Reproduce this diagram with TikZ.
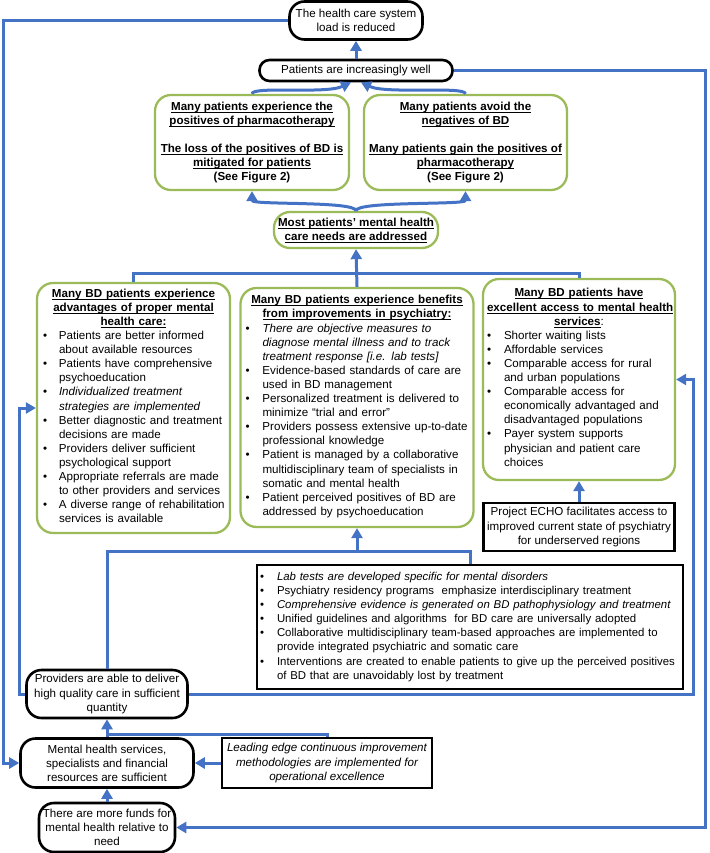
\documentclass[tikz,border=0pt]{standalone}
\usepackage{fontspec}
\setmainfont{Liberation Sans}
\usetikzlibrary{arrows.meta}
\definecolor{linkblue}{RGB}{68,114,196}
\definecolor{boxgreen}{RGB}{155,187,89}
\newcommand{\hd}[1]{\leavevmode{\bfseries\setbox0\hbox{#1}\rlap{\rule[-2.3pt]{\wd0}{0.8pt}}\box0}}
\newcommand{\bl}{\textbullet}
\tikzset{
  roundbox/.style={draw, line width=2.6pt, rounded corners=15pt, fill=white, align=center, inner sep=2pt},
  greenbox/.style={draw=boxgreen, line width=2.3pt, rounded corners=16pt, fill=white, inner sep=4pt},
  sqbox/.style={draw, line width=2.6pt, fill=white, inner sep=3pt},
  link/.style={draw=linkblue, line width=3pt},
  flow/.style={link, -{Triangle[length=10pt,width=11pt]}}
}
\begin{document}
\begin{tikzpicture}[x=1pt,y=-1pt,font=\fontsize{11.6}{14.1}\selectfont]
  \useasboundingbox (0,0) rectangle (709,853);
  \node[roundbox, minimum width=133pt, minimum height=38pt] (load) at (356,20.5)
    {The health care system\\load is reduced};
  \node[roundbox, rounded corners=10pt, minimum width=193pt, minimum height=21pt] (well) at (356,70.5)
    {Patients are increasingly well};
  \node[greenbox, align=center, minimum width=194pt, minimum height=95pt] (posL) at (252,142.5)
    {\hd{Many patients experience the}\\\hd{positives of pharmacotherapy}\\[14.1pt]
     \hd{The loss of the positives of BD is}\\\hd{mitigated for patients}\\\textbf{(See Figure 2)}};
  \node[greenbox, align=center, minimum width=203pt, minimum height=95pt] (posR) at (465.5,142.5)
    {\hd{Many patients avoid the}\\\hd{negatives of BD}\\[14.1pt]
     \hd{Many patients gain the positives of}\\\hd{pharmacotherapy}\\\textbf{(See Figure 2)}};
  \node[greenbox, align=center, minimum width=161pt, minimum height=36pt] (most) at (356,230)
    {\hd{Most patients’ mental health}\\\hd{care needs are addressed}};
  \node[greenbox, text width=185pt, minimum height=250pt] (adv) at (133.5,408) {%
    {\centering\hd{Many BD patients experience}\\\hd{advantages of proper mental}\\\hd{health care:}\par}
    \noindent\begin{tabular}[t]{@{\hspace{2pt}}p{16pt}@{}l@{}}
    \bl & Patients are better informed\\
        & about available resources\\
    \bl & Patients have comprehensive\\
        & psychoeducation\\
    \bl & \textit{Individualized treatment}\\
        & \textit{strategies are implemented}\\
    \bl & Better diagnostic and treatment\\
        & decisions are made\\
    \bl & Providers deliver sufficient\\
        & psychological support\\
    \bl & Appropriate referrals are made\\
        & to other providers and services\\
    \bl & A diverse range of rehabilitation\\
        & services is available
    \end{tabular}};
  \node[greenbox, text width=225pt, minimum height=239pt] (psy) at (357,407.5) {%
    {\centering\hd{Many BD patients experience benefits}\\\hd{from improvements in psychiatry:}\par}
    \noindent\begin{tabular}[t]{@{\hspace{1pt}}p{17pt}@{}l@{}}
    \bl & \textit{There are objective measures to}\\
        & \textit{diagnose mental illness and to track}\\
        & \textit{treatment response [i.e. lab tests]}\\
    \bl & Evidence-based standards of care are\\
        & used in BD management\\
    \bl & Personalized treatment is delivered to\\
        & minimize “trial and error”\\
    \bl & Providers possess extensive up-to-date\\
        & professional knowledge\\
    \bl & Patient is managed by a collaborative\\
        & multidisciplinary team of specialists in\\
        & somatic and mental health\\
    \bl & Patient perceived positives of BD are\\
        & addressed by psychoeducation
    \end{tabular}};
  \node[greenbox, text width=184pt, minimum height=201pt] (access) at (579,379.5) {%
    {\centering\hd{Many BD patients have}\\\hd{excellent access to mental health}\\\hd{services}:\par}
    \noindent\begin{tabular}[t]{@{}p{17pt}@{}l@{}}
    \bl & Shorter waiting lists\\
    \bl & Affordable services\\
    \bl & Comparable access for rural\\
        & and urban populations\\
    \bl & Comparable access for\\
        & economically advantaged and\\
        & disadvantaged populations\\
    \bl & Payer system supports\\
        & physician and patient care\\
        & choices
    \end{tabular}};
  \node[sqbox, align=center, minimum width=191pt, minimum height=48pt] (echo) at (579,527)
    {Project ECHO facilitates access to\\improved current state of psychiatry\\for underserved regions};
  \node[sqbox, text width=420pt, minimum height=124pt, font=\fontsize{11.4}{14.1}\selectfont] (drivers) at (470,627) {%
    \noindent\begin{tabular}[t]{@{}p{17pt}@{}l@{}}
    \bl & \textit{Lab tests are developed specific for mental disorders}\\
    \bl & Psychiatry residency programs\ \ emphasize interdisciplinary treatment\\
    \bl & \textit{Comprehensive evidence is generated on BD pathophysiology and treatment}\\
    \bl & Unified guidelines and algorithms\ \ for BD care are universally adopted\\
    \bl & Collaborative multidisciplinary team-based approaches are implemented to\\
        & provide integrated psychiatric and somatic care\\
    \bl & Interventions are created to enable patients to give up the perceived positives\\
        & of BD that are unavoidably lost by treatment
    \end{tabular}};
  \node[roundbox, minimum width=161pt, minimum height=48pt] (providers) at (107,694)
    {Providers are able to deliver\\high quality care in sufficient\\quantity};
  \node[roundbox, minimum width=173pt, minimum height=49pt] (services) at (107,763)
    {Mental health services,\\specialists and financial\\resources are sufficient};
  \node[sqbox, align=center, font=\fontsize{11.6}{14.1}\selectfont\itshape, minimum width=210pt, minimum height=50pt] (lean) at (327,763)
    {Leading edge continuous improvement\\methodologies are implemented for\\operational excellence};
  \node[roundbox, minimum width=136pt, minimum height=49pt] (funds) at (107,827.5)
    {There are more funds for\\mental health relative to\\need};

  \coordinate (lx) at (3.5,0);
  \coordinate (lx2) at (19,0);
  \coordinate (rx) at (705.5,0);
  \coordinate (rx2) at (693,0);
  \coordinate (jtop) at (357,273);
  \coordinate (jbot) at (357,551);
  \coordinate (jlean) at (107,734);

  \draw[flow] (well.north) -- (load.south);
  \draw[flow] (load.west) -- (lx |- load.west) -- (lx |- services.west) -- (services.west);
  \draw[flow] (well.east) -- (rx |- well.east) -- (rx |- funds.east) -- (funds.east);
  \draw[flow] (posL.north) .. controls +(0,-8) and +(-25,12) .. ([xshift=-5pt]well.south);
  \draw[flow] (posR.north) .. controls +(0,-8) and +(25,12) .. ([xshift=5pt]well.south);
  \draw[flow] (most.north) .. controls +(0,-10) and +(0,14) .. (posL.south);
  \draw[flow] (most.north) .. controls +(0,-10) and +(0,14) .. (posR.south);
  \draw[link] (adv.north) |- (jtop) -| (access.north);
  \draw[flow] (psy.north) -- (most.south);
  \draw[flow] (echo.north) -- (access.south);
  \draw[link] (providers.north) |- (jbot) -| (drivers.north);
  \draw[flow] (jbot) -- (psy.south);
  \draw[flow] (providers.west) -- (lx2 |- providers.west) |- (adv.west);
  \draw[flow] (providers.east) -- (rx2 |- providers.east) |- (access.east);
  \draw[link] (lean.north) |- (jlean);
  \draw[flow] (services.north) -- (providers.south);
  \draw[flow] (lean.west) -- (services.east);
  \draw[flow] (funds.north) -- (services.south);
\end{tikzpicture}
\end{document}
